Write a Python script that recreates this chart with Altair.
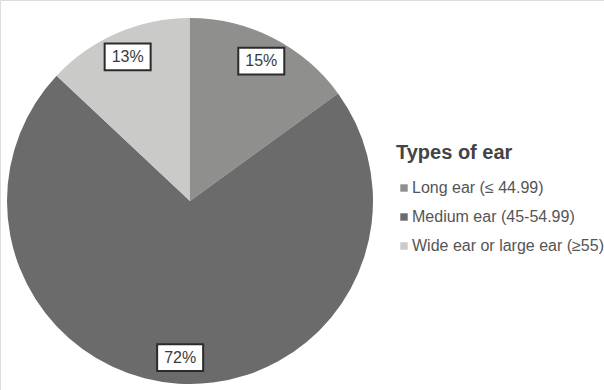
import altair as alt
import pandas as pd

categories = ["Long ear (≤ 44.99)", "Medium ear (45-54.99)", "Wide ear or large ear (≥55)"]
shares = [15, 72, 13]
labels = ["15%", "72%", "13%"]
colors = ["#8f8f8d", "#6c6b6b", "#cacac8"]

df = pd.DataFrame({"category": categories, "share": shares, "label": labels, "idx": list(range(len(categories)))})

CX, CY, R, LR = 190, 201, 183, 157

base = alt.Chart(df).transform_window(
    cum="sum(share)", sort=[alt.SortField("idx")]
).transform_joinaggregate(total="sum(share)").transform_calculate(
    mid="(datum.cum - datum.share/2) / datum.total * 2 * PI",
).transform_calculate(
    px=f"{CX} + {LR} * sin(datum.mid)",
    py=f"{CY} - {LR} * cos(datum.mid)",
)

pie = base.mark_arc(outerRadius=R, stroke=None).encode(
    theta=alt.Theta("share:Q", stack=True),
    order=alt.Order("idx:Q"),
    color=alt.Color(
        "category:N",
        scale=alt.Scale(domain=categories, range=colors),
        legend=alt.Legend(
            title="Types of ear",
            orient="none",
            legendX=396,
            legendY=143,
            symbolType="square",
            symbolSize=55,
            symbolStrokeWidth=0,
            labelFontSize=16,
            labelFont="Liberation Sans",
            labelColor="#555555",
            titleFontSize=20,
            titleFont="Liberation Sans",
            titleFontWeight="bold",
            titleColor="#444444",
            titlePadding=17,
            rowPadding=13,
            labelOffset=0,
            labelLimit=300,
        ),
    ),
    x=alt.value(CX),
    y=alt.value(CY),
)

boxes = base.mark_point(
    shape="M-1,-0.58H1V0.58H-1Z",
    filled=True,
    fill="white",
    stroke="#2b2b2b",
    strokeWidth=2,
    opacity=1,
    size=2116,
).encode(
    x=alt.X("px:Q", scale=None, axis=None),
    y=alt.Y("py:Q", scale=None, axis=None),
)

texts = base.mark_text(
    font="Liberation Sans", fontSize=16, color="#3a3a3a", align="center", baseline="middle"
).encode(
    x=alt.X("px:Q", scale=None, axis=None),
    y=alt.Y("py:Q", scale=None, axis=None),
    text="label:N",
)

chart = alt.layer(pie, boxes, texts).properties(
    width=604, height=390, autosize=alt.AutoSizeParams(type="none"), padding=0
).configure_view(stroke=None).configure(background="white")

chart.save("out.html", embed_options={"renderer": "svg", "actions": False})
